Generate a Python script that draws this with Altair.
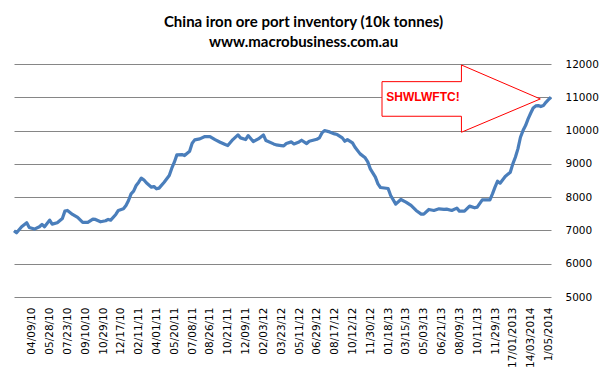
import altair as alt
import pandas as pd

# ---- data ----
idx = [0, 1, 3, 5, 6, 8, 10, 11, 12, 14, 15, 17, 19, 20, 21, 23, 25, 27, 29, 31, 32, 34, 36, 37, 38,
       40, 41, 43, 44, 45, 46, 47, 48, 49, 50, 51, 52, 54, 55, 56, 57, 59, 61, 62, 63, 64, 66, 67, 69,
       70, 71, 73, 75, 77, 79, 81, 83, 84, 86, 88, 89, 91, 92, 94, 96, 98, 99, 102, 103, 105, 106,
       107, 109, 110, 112, 113, 115, 116, 119, 120, 121, 122, 124, 126, 127, 129, 130, 131, 133, 134,
       136, 138, 139, 140, 142, 143, 144, 147, 148, 150, 152, 154, 156, 158, 160, 161, 163, 165, 167,
       169, 170, 172, 174, 175, 177, 179, 181, 182, 184, 187, 188, 189, 190, 191, 193, 195, 196, 197,
       198, 199, 200, 201, 202, 203, 204, 205, 206, 207, 208, 209, 210, 211]
inventory = [6990, 6930, 7110, 7230, 7090, 7040, 7110, 7180, 7110, 7310, 7190, 7230, 7360, 7580, 7600,
             7480, 7390, 7240, 7240, 7340, 7330, 7260, 7290, 7330, 7310,
             7480, 7600, 7650, 7750, 7900, 8100, 8180, 8350, 8450, 8570, 8520, 8430, 8300, 8320, 8250,
             8270, 8450, 8650, 8870, 9050, 9270, 9280, 9250, 9380,
             9620, 9720, 9750, 9820, 9820, 9730, 9650, 9580, 9550, 9730, 9870, 9780, 9730, 9850, 9670,
             9750, 9870, 9700, 9600, 9570, 9550, 9540,
             9610, 9660, 9600, 9660, 9710, 9610, 9680, 9740, 9780, 9930, 10000, 9960, 9900, 9880, 9780,
             9680, 9730, 9630, 9500,
             9300, 9180, 9060, 8850, 8600, 8400, 8290, 8260, 8050, 7790, 7930, 7850, 7750, 7600, 7490,
             7490, 7630, 7600, 7650,
             7630, 7640, 7600, 7670, 7580, 7580, 7730, 7680, 7700, 7920, 7920, 8100, 8300, 8480, 8420,
             8620, 8750, 9000, 9200,
             9450, 9800, 10000, 10150, 10350, 10520, 10680, 10740, 10750, 10720, 10750, 10850, 10930, 11000]

tick_labels = ["04/09/10", "05/28/10", "07/23/10", "09/10/10", "10/29/10", "12/17/10", "02/11/11",
               "04/01/11", "05/20/11", "07/08/11", "08/26/11", "10/21/11", "12/09/11", "02/03/12",
               "03/23/12", "05/11/12", "06/29/12", "08/17/12", "10/12/12", "11/30/12", "01/18/13",
               "03/15/13", "05/03/13", "06/21/13", "08/09/13", "10/11/13", "11/29/13", "17/01/2013",
               "14/03/2014", "1/05/2014"]
tick_pos = [7 + 7 * k for k in range(len(tick_labels))]
y_ticks = [5000, 6000, 7000, 8000, 9000, 10000, 11000, 12000]

# annotation arrow (data coordinates)
arrow_x = [144.6, 175.8, 175.81, 206.8]
arrow_lo = [10430, 10430, 9950, 10950]
arrow_hi = [11470, 11470, 11970, 10950]
note_text = ["SHWLWFTC!"]
note_x = [146.3]
note_y = [11000]

df = pd.DataFrame({"i": idx, "v": inventory})
arrow_df = pd.DataFrame({"x": arrow_x, "lo": arrow_lo, "hi": arrow_hi})
note_df = pd.DataFrame({"x": note_x, "y": note_y, "t": note_text})

label_array = "[" + ",".join('"%s"' % s for s in tick_labels) + "]"
label_expr = label_array + "[round((datum.value - 7) / 7)]"

xscale = alt.Scale(domain=[0, 211], nice=False, zero=False)
yscale = alt.Scale(domain=[5000, 12000], nice=False, zero=False)

base_font = "DejaVu Sans"

x_axis = alt.Axis(values=tick_pos, labelExpr=label_expr, labelAngle=270, ticks=False,
                  domain=False, grid=False, title=None, labelPadding=10,
                  labelFont=base_font, labelFontSize=10.5, labelColor="#000000",
                  labelOverlap=False, labelBound=False, labelFlush=False)
y_axis = alt.Axis(orient="right", values=y_ticks, ticks=False, domain=False, grid=True,
                  gridColor="#868686", gridWidth=1, title=None, labelPadding=14,
                  labelFont=base_font, labelFontSize=10.5, labelColor="#000000",
                  format="d", labelAlign="left", labelOverlap=False, labelBound=False,
                  labelFlush=False)

arrow = alt.Chart(arrow_df).mark_area(fill="white", stroke="#FF0000", strokeWidth=1,
                                      interpolate="linear", opacity=1).encode(
    x=alt.X("x:Q", scale=xscale, axis=x_axis),
    y=alt.Y("lo:Q", scale=yscale, axis=y_axis),
    y2="hi:Q",
)

note = alt.Chart(note_df).mark_text(align="left", baseline="middle", font="Liberation Sans",
                                    fontSize=12, fontWeight="bold", color="#FF0000").encode(
    x=alt.X("x:Q", scale=xscale, axis=x_axis),
    y=alt.Y("y:Q", scale=yscale, axis=y_axis),
    text="t:N",
)

line = alt.Chart(df).mark_line(color="#4A7EBB", strokeWidth=3.2, strokeJoin="round").encode(
    x=alt.X("i:Q", scale=xscale, axis=x_axis),
    y=alt.Y("v:Q", scale=yscale, axis=y_axis),
)

chart = alt.layer(arrow, note, line).properties(
    width=537,
    height=233,
    padding={"left": 6, "right": 49, "top": 56, "bottom": 74},
    autosize=alt.AutoSizeParams(type="none"),
    title=alt.TitleParams(
        text="China iron ore port inventory (10k tonnes)",
        subtitle="www.macrobusiness.com.au",
        font="Lato", fontSize=15, fontWeight="bold", color="#000000",
        subtitleFont="Lato", subtitleFontSize=15, subtitleFontWeight="bold",
        subtitleColor="#000000", subtitlePadding=5,
        anchor="middle", dx=21, offset=9,
    ),
).configure_view(strokeWidth=0)

chart.save("out.html", embed_options={"renderer": "svg", "actions": False})
